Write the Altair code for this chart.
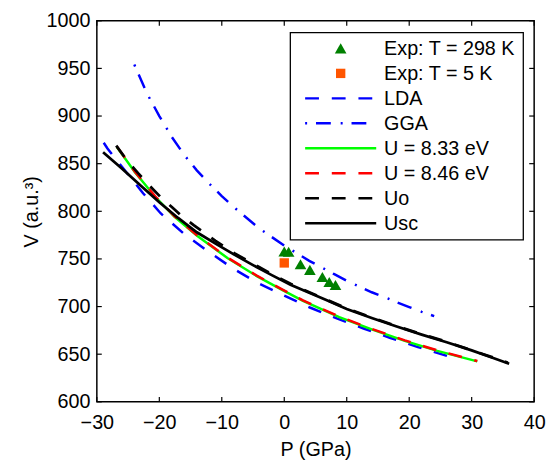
import altair as alt
import pandas as pd

# ---------------- data ----------------
x_ticks = [-30, -20, -10, 0, 10, 20, 30, 40]
y_ticks = [600, 650, 700, 750, 800, 850, 900, 950, 1000]

exp298_P = [0.0, 0.7, 2.6, 4.1, 6.1, 7.2, 8.2]
exp298_V = [757.8, 757.5, 744.4, 738.5, 731.0, 725.8, 722.7]

exp5_P = [0.0]
exp5_V = [745.8]

lda_P = [-28.9, -28.3, -24.8, -22.6, -19.8, -16.0, -12.0, -8.2, -4.3, -0.3, 4.1, 8.4, 12.7, 17.0, 21.4, 25.9, 26.9]
lda_V = [872, 866, 837, 819, 798, 776, 757, 740, 725, 712.5, 699, 687.5, 677, 667, 657.5, 648.5, 646]

gga_P = [-24, -22, -20, -18, -16, -14, -12, -10, -8, -6, -4, -2, 0, 2, 4, 6, 8, 10, 12, 14, 16, 18, 20, 22, 24]
gga_V = [954, 924, 900, 878, 859, 843, 829, 816, 804, 793, 782, 773, 764, 756, 748, 741, 734, 727, 721, 715, 710, 704.5, 699.5, 694.5, 690]

u833_P = [-26.8, -23.9, -20.7, -17.6, -13.9, -9.1, -4.4, -0.2, 3.0, 8.8, 14.0, 19.3, 24.5, 30.9]
u833_V = [867.5, 841, 815.5, 794.5, 774, 751, 732, 717, 706, 689, 676, 664, 653.5, 642.5]

u846_P = [-26.8, -23.9, -20.7, -17.6, -13.9, -9.1, -4.4, -0.2, 3.0, 8.8, 14.0, 19.3, 24.5, 30.9]
u846_V = [868, 841.5, 816, 795, 774.5, 751.5, 732.5, 717.5, 706.5, 689.5, 676.5, 664.5, 654, 642.8]

uo_P = [-26.9, -25.0, -23.4, -21.5, -19.8, -18.0, -16.4, -14.5, -12.7, -11.0, -8.0, -5.0, -2.0, 1.0, 4.0, 7.0, 10.0, 14.0, 18.0, 22.0, 26.0, 30.0, 33.0, 35.8]
uo_V = [869, 852, 840, 826.5, 815, 804.5, 795, 785.5, 777, 769, 756, 745, 734, 724, 715, 706.5, 698, 688.5, 679.5, 671, 663, 654, 647.5, 641]

usc_P = [-29, -26, -23, -20, -17, -14, -11, -8, -5, -2, 1, 4, 7, 10, 14, 18, 22, 26, 30, 33, 36]
usc_V = [862, 845, 827, 809.5, 793, 778, 766, 754.5, 743.5, 733, 723, 714.5, 706, 697.5, 688, 679, 670.5, 662.5, 654, 647, 640]

legend_labels = ["Exp: T = 298 K", "Exp: T = 5 K", "LDA", "GGA",
                 "U = 8.33 eV", "U = 8.46 eV", "Uo", "Usc"]

# ---------------- styling ----------------
FONT = "Liberation Sans"
FS = 20
W, H = 443, 386
LW = 2.5
DASH = [14, 13]
DASHDOT = [15, 10, 2, 9]
GREEN_M = "#008000"
ORANGE = "#ff5500"
BLUE = "#0000ff"

xs = alt.Scale(domain=[-30, 40], nice=False, zero=False)
ys = alt.Scale(domain=[600, 1000], nice=False, zero=False)

xaxis = alt.Axis(values=x_ticks, ticks=False, tickSize=0, domain=False, grid=False,
                 labelFlush=False, labelPadding=11, titlePadding=7,
                 labelFont=FONT, titleFont=FONT, labelFontSize=FS, titleFontSize=FS,
                 titleFontWeight="normal", labelColor="black", titleColor="black")
yaxis = alt.Axis(values=y_ticks, format="d", ticks=False, tickSize=0, domain=False, grid=False,
                 labelFlush=False, labelPadding=7, titlePadding=5,
                 labelFont=FONT, titleFont=FONT, labelFontSize=FS, titleFontSize=FS,
                 titleFontWeight="normal", labelColor="black", titleColor="black")

X = alt.X("P:Q", scale=xs, axis=xaxis, title="P (GPa)")
Y = alt.Y("V:Q", scale=ys, axis=yaxis, title="V (a.u.³)")


def line(P, V, color, dash=None, width=LW):
    kw = dict(color=color, strokeWidth=width, clip=True)
    if dash is not None:
        kw["strokeDash"] = dash
    if dash == DASHDOT:
        kw["strokeDashOffset"] = 25
    return alt.Chart(pd.DataFrame({"P": P, "V": V})).mark_line(**kw).encode(x=X, y=Y)


layers = [
    line(lda_P, lda_V, BLUE, DASH),
    line(gga_P, gga_V, BLUE, DASHDOT),
    line(u833_P, u833_V, "#00ff00"),
    line(u846_P, u846_V, "#ff0000", DASH),
    line(uo_P, uo_V, "black", DASH, 2.8),
    line(usc_P, usc_V, "black", None, 2.8),
    alt.Chart(pd.DataFrame({"P": exp298_P, "V": exp298_V})).mark_point(
        shape="triangle-up", filled=True, size=140, color=GREEN_M, opacity=1).encode(x=X, y=Y),
    alt.Chart(pd.DataFrame({"P": exp5_P, "V": exp5_V})).mark_point(
        shape="square", filled=True, size=90, color=ORANGE, opacity=1).encode(x=X, y=Y),
]

# inward ticks on all four sides
TL = 5
xt = pd.DataFrame({"P": x_ticks})
yt = pd.DataFrame({"V": y_ticks})
tick_kw = dict(color="black", strokeWidth=1.2)
layers += [
    alt.Chart(xt).mark_rule(**tick_kw).encode(x=X, y=alt.value(H), y2=alt.value(H - TL)),
    alt.Chart(xt).mark_rule(**tick_kw).encode(x=X, y=alt.value(0), y2=alt.value(TL)),
    alt.Chart(yt).mark_rule(**tick_kw).encode(y=Y, x=alt.value(0), x2=alt.value(TL)),
    alt.Chart(yt).mark_rule(**tick_kw).encode(y=Y, x=alt.value(W), x2=alt.value(W - TL)),
]

# ---------------- legend (drawn by hand) ----------------
dummy = pd.DataFrame({"a": [0]})
LX0, LX1, LY0, LY1 = 196, 432, 12, 222
layers.append(alt.Chart(dummy).mark_rect(fill="white", stroke="black", strokeWidth=1.3).encode(
    x=alt.value(LX0), x2=alt.value(LX1), y=alt.value(LY0), y2=alt.value(LY1)))

row0, step = 28, 25.3
sym_x0, sym_x1, sym_c, txt_x = 211, 283, 247, 291
styles = [
    ("point", dict(shape="triangle-up", color=GREEN_M, size=140)),
    ("point", dict(shape="square", color=ORANGE, size=90)),
    ("line", dict(color=BLUE, strokeDash=DASH)),
    ("line", dict(color=BLUE, strokeDash=DASHDOT, strokeDashOffset=25)),
    ("line", dict(color="#00ff00")),
    ("line", dict(color="#ff0000", strokeDash=DASH)),
    ("line", dict(color="black", strokeDash=DASH)),
    ("line", dict(color="black")),
]
for i, (lab, (kind, st)) in enumerate(zip(legend_labels, styles)):
    yy = row0 + i * step
    if kind == "point":
        layers.append(alt.Chart(dummy).mark_point(filled=True, opacity=1, **st).encode(
            x=alt.value(sym_c), y=alt.value(yy)))
    else:
        layers.append(alt.Chart(dummy).mark_rule(strokeWidth=LW, **st).encode(
            x=alt.value(sym_x0), x2=alt.value(sym_x1), y=alt.value(yy)))
    layers.append(alt.Chart(dummy).mark_text(
        align="left", baseline="middle", font=FONT, fontSize=FS, color="black").encode(
        x=alt.value(txt_x), y=alt.value(yy + 1), text=alt.value(lab)))

chart = alt.layer(*layers).properties(
    width=W, height=H,
    autosize=alt.AutoSizeParams(type="none"),
    padding={"left": 90, "top": 10, "right": 12, "bottom": 57},
).configure_view(stroke="black", strokeWidth=1.5)

chart.save("out.html", embed_options={"renderer": "svg", "actions": False})
